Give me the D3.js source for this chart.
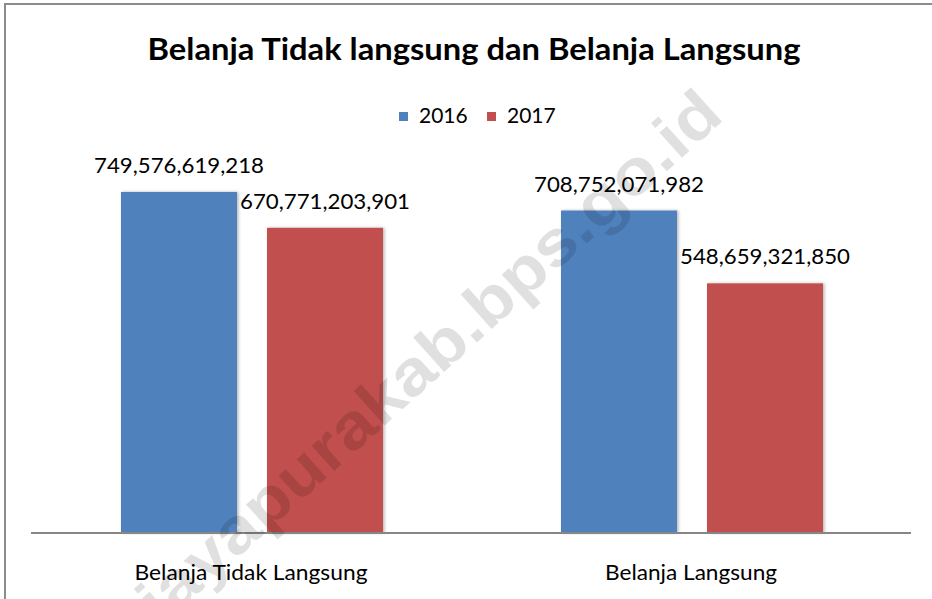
<!DOCTYPE html>
<html>
<head>
<meta charset="utf-8">
<script src="https://cdn.jsdelivr.net/npm/d3@7"></script>
<style>
  html, body { margin: 0; padding: 0; background: #fff; }
  svg { display: block; font-family: Lato, "Open Sans", sans-serif; }
</style>
</head>
<body>
<div id="chart"></div>
<script>
// data
const categories = ['Belanja Tidak Langsung', 'Belanja Langsung'];
const years = ['2016', '2017'];
const values2016 = [749576619218, 708752071982];
const values2017 = [670771203901, 548659321850];
const seriesColors = ['#4F81BD', '#C0504D'];

const width = 932;
const height = 599;

const svg = d3.select('#chart')
    .append('svg')
    .attr('width', width)
    .attr('height', height);

// soft shadow around the bars
const defs = svg.append('defs');
const shadow = defs.append('filter')
    .attr('id', 'barShadow')
    .attr('x', '-20%').attr('y', '-5%')
    .attr('width', '140%').attr('height', '110%');
shadow.append('feDropShadow')
    .attr('dx', 1.5).attr('dy', 0)
    .attr('stdDeviation', 1.6)
    .attr('flood-color', '#000')
    .attr('flood-opacity', 0.28);

// outer frame (right / bottom edges fall outside the picture)
svg.append('rect')
    .attr('x', 5).attr('y', 4)
    .attr('width', 960).attr('height', 640)
    .attr('fill', '#fff')
    .attr('stroke', '#8c8c8c')
    .attr('stroke-width', 2);

// title
svg.append('text')
    .attr('x', 474).attr('y', 60)
    .attr('text-anchor', 'middle')
    .attr('font-size', 30)
    .attr('font-weight', 'bold')
    .attr('fill', '#000')
    .attr('textLength', 653)
    .attr('lengthAdjust', 'spacingAndGlyphs')
    .text('Belanja Tidak langsung dan Belanja Langsung');

// legend
const legendX = [399, 487];
const legend = svg.append('g').attr('class', 'legend');
years.forEach(function(y, i) {
    legend.append('rect')
        .attr('x', legendX[i]).attr('y', 112)
        .attr('width', 9).attr('height', 9)
        .attr('fill', seriesColors[i]);
    legend.append('text')
        .attr('x', legendX[i] + 20).attr('y', 123)
        .attr('font-size', 21)
        .attr('fill', '#000')
        .text(y);
});

// scales
const x0 = d3.scaleBand().domain(categories).range([31, 911]).paddingInner(0);
const x1 = d3.scaleBand().domain(years).range([90, 352]).paddingInner(0.2055);
const y = d3.scaleLinear().domain([0, 800e9]).range([533, 169]);

const rows = categories.map(function(c, i) {
    return { category: c, values: [values2016[i], values2017[i]] };
});

const groups = svg.append('g').attr('class', 'bars')
    .selectAll('g')
    .data(rows)
    .join('g')
    .attr('transform', function(d) { return 'translate(' + x0(d.category) + ',0)'; });

groups.selectAll('rect')
    .data(function(d) { return d.values.map(function(v, i) { return { year: years[i], value: v, idx: i }; }); })
    .join('rect')
    .attr('x', function(d) { return x1(d.year); })
    .attr('y', function(d) { return y(d.value); })
    .attr('width', x1.bandwidth())
    .attr('height', function(d) { return y(0) - y(d.value); })
    .attr('fill', function(d) { return seriesColors[d.idx]; })
    .attr('filter', 'url(#barShadow)');

// value labels above bars
const fmt = d3.format(',');
groups.selectAll('text.value')
    .data(function(d) { return d.values.map(function(v, i) { return { year: years[i], value: v }; }); })
    .join('text')
    .attr('class', 'value')
    .attr('x', function(d) { return x1(d.year) + x1.bandwidth() / 2; })
    .attr('y', function(d) { return y(d.value) - 19; })
    .attr('text-anchor', 'middle')
    .attr('font-size', 21)
    .attr('fill', '#000')
    .attr('textLength', 170)
    .attr('lengthAdjust', 'spacingAndGlyphs')
    .text(function(d) { return fmt(d.value); });

// category axis
svg.append('line')
    .attr('x1', 31).attr('x2', 911)
    .attr('y1', 533).attr('y2', 533)
    .attr('stroke', '#868686')
    .attr('stroke-width', 2);

const catWidths = [233, 172];
svg.append('g').selectAll('text')
    .data(categories)
    .join('text')
    .attr('x', function(d) { return x0(d) + x0.bandwidth() / 2; })
    .attr('y', 580)
    .attr('text-anchor', 'middle')
    .attr('font-size', 22)
    .attr('fill', '#000')
    .attr('textLength', function(d, i) { return catWidths[i]; })
    .attr('lengthAdjust', 'spacingAndGlyphs')
    .text(function(d) { return d; });

// watermark
svg.append('text')
    .attr('transform', 'translate(432,360) rotate(-42)')
    .attr('text-anchor', 'middle')
    .attr('dominant-baseline', 'middle')
    .attr('font-family', '"Liberation Sans", Arial, sans-serif')
    .attr('font-weight', 'bold')
    .attr('font-size', 64)
    .attr('fill', '#000')
    .attr('fill-opacity', 0.12)
    .attr('textLength', 760)
    .attr('lengthAdjust', 'spacingAndGlyphs')
    .text('jayapurakab.bps.go.id');
</script>
</body>
</html>
